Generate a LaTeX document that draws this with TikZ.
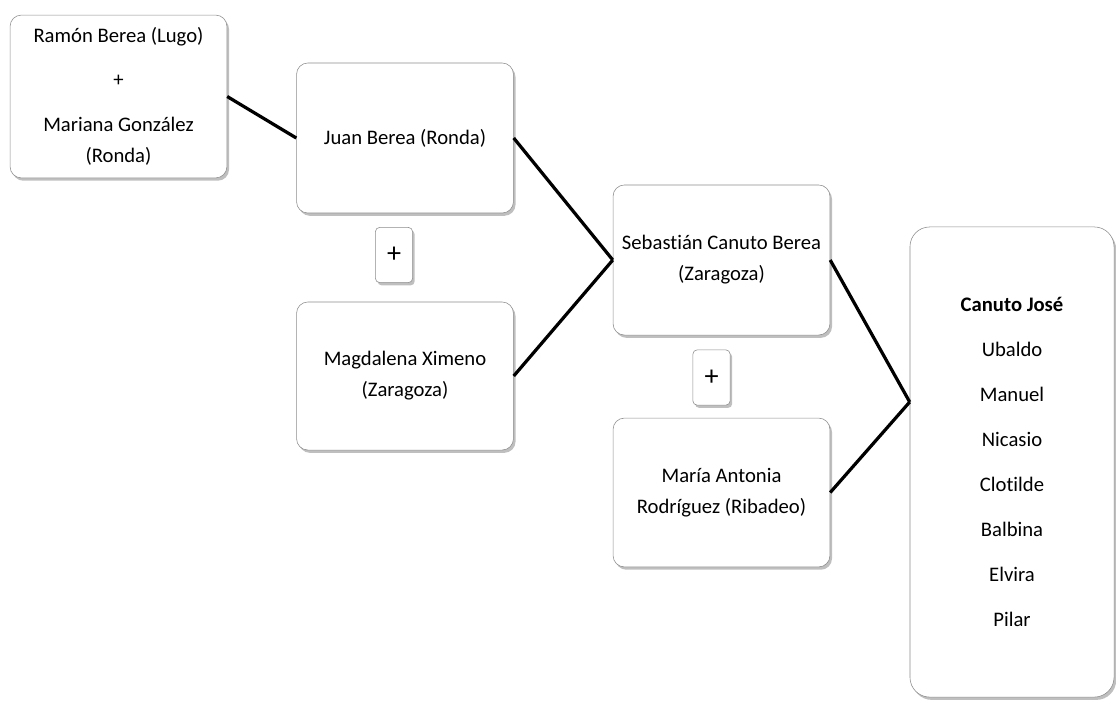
\documentclass[tikz,border=0pt]{standalone}
\usepackage{fontspec}
\setmainfont{Carlito}[Ligatures=NoCommon]
\usetikzlibrary{positioning, shadows, calc}

\begin{document}
\begin{tikzpicture}[
        x=0.025cm, y=-0.025cm,
        person/.style={draw=black!45, fill=white, rounded corners=8pt, inner sep=0pt,
            align=center, minimum width=5.42cm, minimum height=3.75cm,
            drop shadow={shadow xshift=1.5pt, shadow yshift=-2pt, opacity=0.5},
            font=\fontsize{14.7}{22}\selectfont},
        plusbox/.style={person, rounded corners=3pt, minimum width=0.93cm, minimum height=1.38cm,
            font=\fontsize{20}{22}\selectfont},
        link/.style={line width=2.3pt, black}
    ]
        \useasboundingbox (0,0) rectangle (1116,700);

        \node[person, minimum height=4.07cm] (ramon) at (118.5,96.5)
            {Ramón Berea (Lugo)\\[9pt] +\\[10pt] Mariana González\\ (Ronda)};
        \node[person] (juan) at (405,138) {Juan Berea (Ronda)};
        \node[plusbox] (plusA) at (394,255) {+};
        \node[person, minimum height=3.7cm] (magda) at (405,376) {Magdalena Ximeno\\ (Zaragoza)};

        \node[person] (seb) at (721.5,260) {Sebastián Canuto Berea\\ (Zaragoza)};
        \node[plusbox] (plusB) at (711.5,377.5) {+};
        \node[person, minimum height=3.72cm] (maria) at (721.5,492.5) {María Antonia\\ Rodríguez (Ribadeo)};

        \node[person, rounded corners=14pt, minimum width=5.1cm, minimum height=11.75cm,
            font=\fontsize{14.7}{32}\selectfont] (kids) at (1012,462)
            {\textbf{Canuto José}\\ Ubaldo\\ Manuel\\ Nicasio\\ Clotilde\\ Balbina\\ Elvira\\ Pilar};
        \coordinate (kidsin) at ([yshift=1.5cm]kids.west);

        \draw[link] (ramon.east) -- (juan.west);
        \draw[link] (juan.east) -- (seb.west);
        \draw[link] (magda.east) -- (seb.west);
        \draw[link] (seb.east) -- (kidsin);
        \draw[link] (maria.east) -- (kidsin);
    \end{tikzpicture}
\end{document}
